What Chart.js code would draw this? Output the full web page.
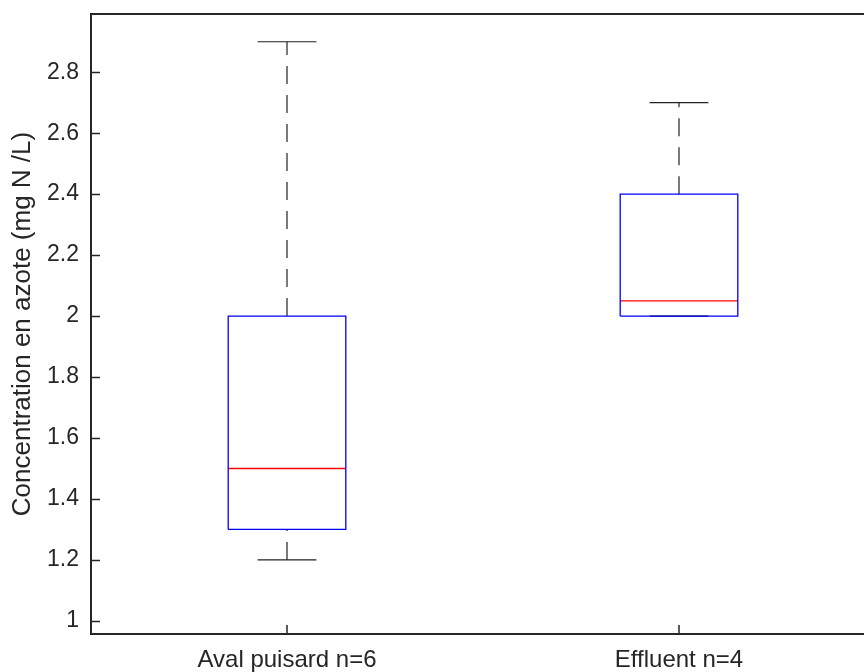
<!DOCTYPE html>
<html>
<head>
<meta charset="utf-8">
<script src="https://cdn.jsdelivr.net/npm/chart.js@4/dist/chart.umd.min.js"></script>
<style>
  html, body { margin: 0; padding: 0; background: #fff; overflow: hidden; }
  #chart { display: block; }
</style>
</head>
<body>
<canvas id="chart" width="880" height="672"></canvas>
<script>
// data
const categories = ['Aval puisard n=6', 'Effluent n=4'];
const whiskerLow = [1.2, 2.0];
const q1 = [1.3, 2.0];
const median = [1.5, 2.05];
const q3 = [2.0, 2.4];
const whiskerHigh = [2.9, 2.7];
const yTicks = [1, 1.2, 1.4, 1.6, 1.8, 2, 2.2, 2.4, 2.6, 2.8];

const BOX_HALF = 0.15;
const CAP_HALF = 0.075;
const AXIS_COLOR = '#262626';
const FONT = 'Helvetica, Arial, "Liberation Sans", sans-serif';

function seg (points, color, extra) {
  return Object.assign({
    data: points,
    showLine: true,
    borderColor: color,
    borderWidth: 1,
    pointRadius: 0,
    fill: false,
  }, extra || {});
}

const datasets = [];
categories.forEach((cat, i) => {
  const x = i + 1;
  // box
  datasets.push(seg([
    { x: x - BOX_HALF, y: q1[i] },
    { x: x + BOX_HALF, y: q1[i] },
    { x: x + BOX_HALF, y: q3[i] },
    { x: x - BOX_HALF, y: q3[i] },
    { x: x - BOX_HALF, y: q1[i] },
  ], '#0000ff', { borderWidth: 1.3 }));
  // median
  datasets.push(seg([{ x: x - BOX_HALF, y: median[i] }, { x: x + BOX_HALF, y: median[i] }], '#ff0000', { borderWidth: 1.3 }));
  // whiskers (drawn from lower to upper value)
  datasets.push(seg([{ x, y: q3[i] }, { x, y: whiskerHigh[i] }], '#222', { borderDash: [18, 11], borderWidth: 1.2 }));
  datasets.push(seg([{ x, y: whiskerLow[i] }, { x, y: q1[i] }], '#222', { borderDash: [18, 11], borderWidth: 1.2 }));
  // caps
  datasets.push(seg([{ x: x - CAP_HALF, y: whiskerHigh[i] }, { x: x + CAP_HALF, y: whiskerHigh[i] }], '#222', { borderWidth: 1.2 }));
  datasets.push(seg([{ x: x - CAP_HALF, y: whiskerLow[i] }, { x: x + CAP_HALF, y: whiskerLow[i] }], '#222', { borderWidth: 1.2 }));
});

// axes frame with inward ticks
const framePlugin = {
  id: 'frame',
  afterDraw (chart) {
    const { ctx, chartArea: a, scales } = chart;
    ctx.save();
    ctx.strokeStyle = AXIS_COLOR;
    ctx.lineWidth = 2;
    ctx.strokeRect(a.left, a.top, a.right - a.left, a.bottom - a.top);
    ctx.lineWidth = 1.5;
    ctx.beginPath();
    scales.y.ticks.forEach((t) => {
      const py = Math.round(scales.y.getPixelForValue(t.value)) + 0.5;
      ctx.moveTo(a.left, py);
      ctx.lineTo(a.left + 9, py);
    });
    scales.x.ticks.forEach((t) => {
      const px = Math.round(scales.x.getPixelForValue(t.value));
      ctx.moveTo(px, a.bottom);
      ctx.lineTo(px, a.bottom - 9);
    });
    ctx.stroke();
    ctx.restore();
  },
};

new Chart(document.getElementById('chart'), {
  type: 'scatter',
  data: { datasets },
  plugins: [framePlugin],
  options: {
    responsive: false,
    animation: false,
    layout: { padding: { left: 0, top: 14, right: 5, bottom: 0 } },
    plugins: {
      legend: { display: false },
      tooltip: { enabled: false },
    },
    scales: {
      x: {
        type: 'linear',
        min: 0.5,
        max: 2.5,
        afterFit (scale) {
          scale.height = 38;
          scale.paddingLeft = 0;
          scale.paddingRight = 0;
        },
        afterBuildTicks (scale) { scale.ticks = categories.map((c, i) => ({ value: i + 1 })); },
        grid: { display: false, drawTicks: false },
        border: { display: false },
        ticks: {
          autoSkip: false,
          maxRotation: 0,
          padding: 12,
          color: AXIS_COLOR,
          font: { family: FONT, size: 24 },
          callback: (v) => categories[v - 1],
        },
      },
      y: {
        type: 'linear',
        min: 0.957,
        max: 2.991,
        afterFit (scale) {
          scale.width = 91;
          scale.paddingTop = 0;
          scale.paddingBottom = 0;
        },
        afterBuildTicks (scale) { scale.ticks = yTicks.map((v) => ({ value: v })); },
        grid: { display: false, drawTicks: false },
        border: { display: false },
        ticks: {
          padding: 12,
          color: AXIS_COLOR,
          font: { family: FONT, size: 23 },
          callback: (v) => String(v),
        },
        title: {
          display: true,
          text: 'Concentration en azote (mg N /L)',
          color: AXIS_COLOR,
          padding: { top: 10, bottom: 0 },
          font: { family: FONT, size: 26, lineHeight: 1 },
        },
      },
    },
  },
});
</script>
</body>
</html>
